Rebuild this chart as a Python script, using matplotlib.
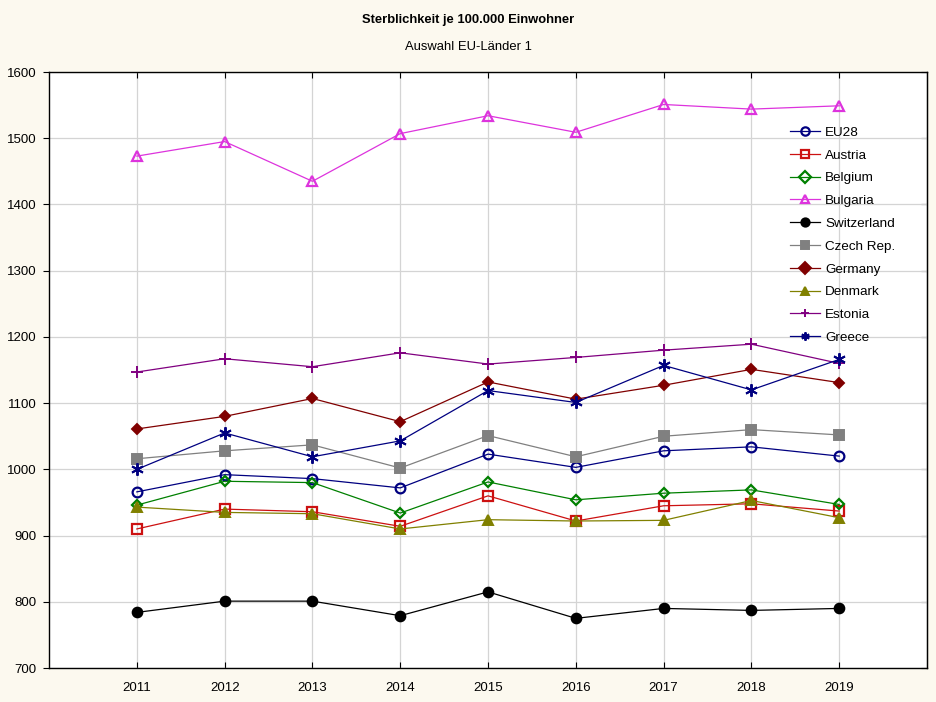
import numpy as np
import matplotlib.pyplot as plt

plt.rcParams['font.family'] = ['Liberation Sans', 'DejaVu Sans']

years = [2011, 2012, 2013, 2014, 2015, 2016, 2017, 2018, 2019]

eu28 = [966, 992, 986, 972, 1023, 1003, 1028, 1034, 1020]
austria = [910, 940, 936, 914, 960, 922, 945, 948, 937]
belgium = [946, 982, 980, 934, 981, 954, 964, 969, 947]
bulgaria = [1473, 1495, 1435, 1507, 1534, 1509, 1551, 1544, 1549]
switzerland = [784, 801, 801, 779, 815, 775, 790, 787, 790]
czech = [1016, 1028, 1037, 1002, 1051, 1019, 1050, 1060, 1052]
germany = [1061, 1080, 1107, 1072, 1132, 1106, 1127, 1151, 1131]
denmark = [943, 935, 933, 910, 924, 922, 923, 953, 927]
estonia = [1147, 1167, 1155, 1176, 1159, 1169, 1180, 1189, 1160]
greece = [1000, 1055, 1019, 1043, 1119, 1101, 1157, 1120, 1166]

series = [
    ('EU28', eu28, '#000080', 'o', 'none'),
    ('Austria', austria, '#cc1111', 's', 'none'),
    ('Belgium', belgium, '#008000', 'D', 'none'),
    ('Bulgaria', bulgaria, '#dd33dd', '^', 'none'),
    ('Switzerland', switzerland, '#000000', 'o', 'full'),
    ('Czech Rep.', czech, '#808080', 's', 'full'),
    ('Germany', germany, '#800000', 'D', 'full'),
    ('Denmark', denmark, '#808000', '^', 'full'),
    ('Estonia', estonia, '#800080', '+', 'full'),
    ('Greece', greece, '#000080', (6, 2, 0), 'full'),
]

bg = '#fcf9ef'
fig = plt.figure(figsize=(9.36, 7.02), dpi=100, facecolor=bg)
ax = fig.add_axes([0.0524, 0.0484, 0.938, 0.849])
ax.set_facecolor('white')

for name, vals, col, mk, fill in series:
    ms = 7
    if mk == 'D':
        ms = 5.5
    if mk == '+' or mk == (6, 2, 0):
        ms = 9
    if fill == 'none':
        ax.plot(years, vals, color=col, lw=0.9, marker=mk, ms=ms,
                mfc='none', mec=col, mew=1.6, label=name)
    else:
        ax.plot(years, vals, color=col, lw=0.9, marker=mk, ms=ms,
                mfc=col, mec=col, mew=1.4, label=name)

ax.set_xlim(2010, 2020)
ax.set_ylim(700, 1600)
ax.set_xticks(years)
ax.set_yticks(np.arange(700, 1601, 100))
ax.grid(True, color='#d4d4d4', lw=0.9)
ax.set_axisbelow(True)
for s in ax.spines.values():
    s.set_linewidth(1.0)
ax.tick_params(axis='x', direction='in', top=True, length=4, labelsize=9.5, pad=10)
ax.tick_params(axis='y', direction='out', length=4, labelsize=9.5, pad=5)
ax.tick_params(axis='y', which='both', right=False)
ax2 = ax.secondary_yaxis('right')
ax2.set_yticks(np.arange(700, 1601, 100))
ax2.tick_params(direction='in', length=4, labelright=False)

leg = ax.legend(loc='upper left', bbox_to_anchor=(0.838, 0.918), frameon=False,
                fontsize=9.7, handlelength=2.2, labelspacing=0.77,
                handletextpad=0.4, borderaxespad=0)
for h in leg.legend_handles:
    h.set_markersize(6)

fig.text(0.5, 0.972, 'Sterblichkeit je 100.000 Einwohner', ha='center',
         va='center', fontsize=9.4, fontweight='bold')
fig.text(0.5, 0.933, 'Auswahl EU-Länder 1', ha='center', va='center', fontsize=9.4)

plt.savefig('out.png', dpi=100, facecolor=bg)
